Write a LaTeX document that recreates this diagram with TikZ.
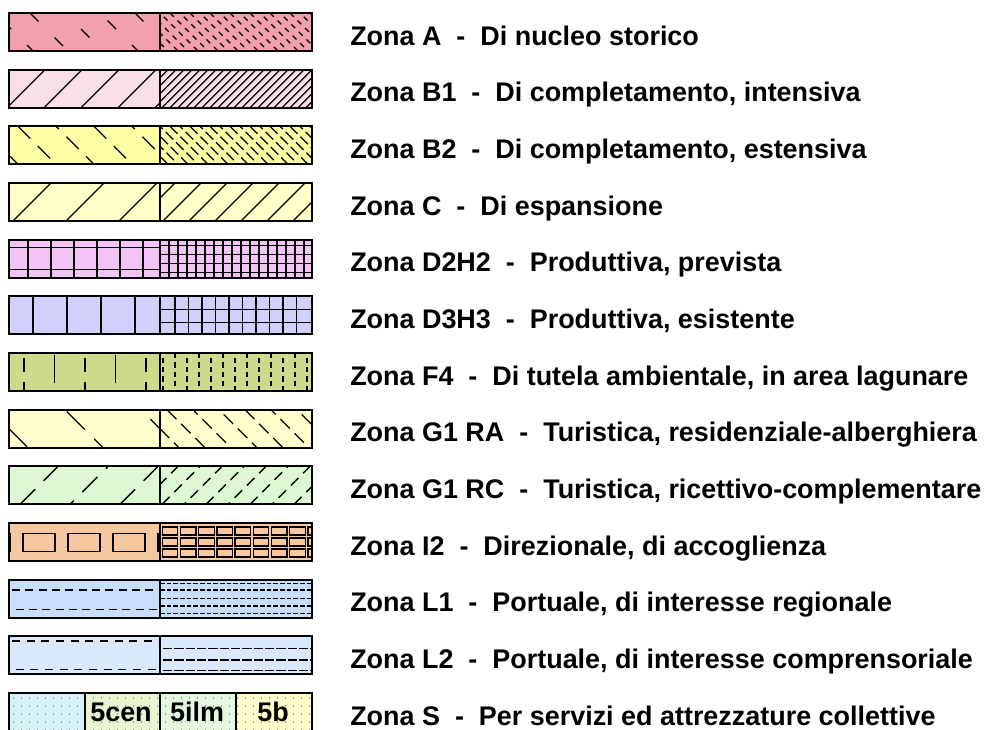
\documentclass[tikz,border=0pt]{standalone}
\usepackage{fontspec}
\setmainfont{Liberation Sans}
\usepackage{tikz}

\definecolor{fillA}{RGB}{242,160,172}
\definecolor{fillBa}{RGB}{250,222,232}
\definecolor{fillBb}{RGB}{255,255,165}
\definecolor{fillC}{RGB}{255,255,200}
\definecolor{fillDa}{RGB}{242,196,246}
\definecolor{fillDb}{RGB}{208,208,250}
\definecolor{fillF}{RGB}{204,218,140}
\definecolor{fillGa}{RGB}{255,255,205}
\definecolor{fillGb}{RGB}{222,248,212}
\definecolor{fillI}{RGB}{246,200,160}
\definecolor{fillLa}{RGB}{200,222,250}
\definecolor{fillLb}{RGB}{218,232,252}
\definecolor{fillSa}{RGB}{212,240,246}
\definecolor{fillSb}{RGB}{236,244,196}
\definecolor{fillSc}{RGB}{228,250,222}
\definecolor{fillSd}{RGB}{255,255,204}

\tikzset{
  swatch/.style={draw=black, line width=1.6pt},
  hatch/.style={black, line width=1pt},
  zlabel/.style={anchor=base west, inner sep=0pt, font=\bfseries\fontsize{20.2}{22}\selectfont},
  slabel/.style={anchor=base, inner sep=0pt, font=\bfseries\fontsize{20.2}{22}\selectfont},
}

\begin{document}
\begin{tikzpicture}[x=0.75pt,y=0.75pt,yscale=-1,xscale=1]
\useasboundingbox (0,0) rectangle (984,729);

%Shape: Swatch Zona A
\begin{scope}[shift={(0,13)}]
\fill[fillA] (9,0) rectangle (312,38);
\begin{scope}
\clip (9,0) rectangle (160,38);
\foreach \x [count=\i, evaluate=\i as \ph using {mod(\i,3)*9}] in {-40,-5,...,160}
  \draw[hatch, dash pattern=on 9pt off 17pt, dash phase=\ph pt] (\x,0) -- ++(38,38);
\end{scope}
\begin{scope}
\clip (160,0) rectangle (312,38);
\foreach \x [count=\i, evaluate=\i as \ph using {mod(\i,2)*4}] in {120,130,...,312}
  \draw[hatch, dash pattern=on 4pt off 4pt, dash phase=\ph pt] (\x,0) -- ++(38,38);
\end{scope}
\draw[swatch] (9,0) rectangle (312,38) (160,0) -- (160,38);
% Text Node
\node[zlabel] (zA) at (350,32) {Zona A\ \ -\ \ Di nucleo storico};
\end{scope}

%Shape: Swatch Zona B1
\begin{scope}[shift={(0,69.7)}]
\fill[fillBa] (9,0) rectangle (312,38);
\begin{scope}
\clip (9,0) rectangle (160,38);
\foreach \x in {-30,7,...,160}
  \draw[hatch] (\x,38) -- ++(38,-38);
\end{scope}
\begin{scope}
\clip (160,0) rectangle (312,38);
\foreach \x in {122,130,...,312}
  \draw[hatch] (\x,38) -- ++(38,-38);
\end{scope}
\draw[swatch] (9,0) rectangle (312,38) (160,0) -- (160,38);
% Text Node
\node[zlabel] (zB1) at (350,32) {Zona B1\ \ -\ \ Di completamento, intensiva};
\end{scope}

%Shape: Swatch Zona B2
\begin{scope}[shift={(0,126.3)}]
\fill[fillBb] (9,0) rectangle (312,38);
\begin{scope}
\clip (9,0) rectangle (160,38);
\foreach \x [count=\i, evaluate=\i as \ph using {mod(\i,2)*10}] in {-20,18,...,160}
  \draw[hatch, dash pattern=on 13pt off 8pt, dash phase=\ph pt] (\x,0) -- ++(38,38);
\end{scope}
\begin{scope}
\clip (160,0) rectangle (312,38);
\foreach \x [count=\i, evaluate=\i as \ph using {mod(\i,2)*5}] in {120,130,...,312}
  \draw[hatch, dash pattern=on 8pt off 3pt, dash phase=\ph pt] (\x,0) -- ++(38,38);
\end{scope}
\draw[swatch] (9,0) rectangle (312,38) (160,0) -- (160,38);
% Text Node
\node[zlabel] (zB2) at (350,32) {Zona B2\ \ -\ \ Di completamento, estensiva};
\end{scope}

%Shape: Swatch Zona C
\begin{scope}[shift={(0,183)}]
\fill[fillC] (9,0) rectangle (312,38);
\begin{scope}
\clip (9,0) rectangle (160,38);
\foreach \x in {-40,13,66,119}
  \draw[hatch] (\x,38) -- ++(38,-38);
\end{scope}
\begin{scope}
\clip (160,0) rectangle (312,38);
\foreach \x in {137,163,...,312}
  \draw[hatch] (\x,38) -- ++(38,-38);
\end{scope}
\draw[swatch] (9,0) rectangle (312,38) (160,0) -- (160,38);
% Text Node
\node[zlabel] (zC) at (350,32) {Zona C\ \ -\ \ Di espansione};
\end{scope}

%Shape: Swatch Zona D2H2
\begin{scope}[shift={(0,239.7)}]
\fill[fillDa] (9,0) rectangle (312,38);
\foreach \x in {28,51,74,97,120,143}
  \draw[hatch] (\x,0) -- (\x,38);
\draw[hatch] (9,8) -- (160,8) (9,30) -- (160,30);
\foreach \x in {169,178,...,306}
  \draw[hatch] (\x,0) -- (\x,38);
\foreach \y in {6,15,24,33}
  \draw[hatch] (160,\y) -- (312,\y);
\draw[swatch] (9,0) rectangle (312,38) (160,0) -- (160,38);
% Text Node
\node[zlabel] (zD2H2) at (350,32) {Zona D2H2\ \ -\ \ Produttiva, prevista};
\end{scope}

%Shape: Swatch Zona D3H3
\begin{scope}[shift={(0,296.3)}]
\fill[fillDb] (9,0) rectangle (312,38);
\foreach \x in {33,67,101,135}
  \draw[hatch] (\x,0) -- (\x,38);
\foreach \x in {175,188.5,...,300}
  \draw[hatch] (\x,0) -- (\x,38);
\draw[hatch] (160,13) -- (312,13) (160,26) -- (312,26);
\draw[swatch] (9,0) rectangle (312,38) (160,0) -- (160,38);
% Text Node
\node[zlabel] (zD3H3) at (350,32) {Zona D3H3\ \ -\ \ Produttiva, esistente};
\end{scope}

%Shape: Swatch Zona F4
\begin{scope}[shift={(0,353)}]
\fill[fillF] (9,0) rectangle (312,38);
\foreach \x in {24,85,146}
  \draw[hatch] (\x,5) -- (\x,19) (\x,29) -- (\x,38);
\foreach \x in {54.5,115.5}
  \draw[hatch] (\x,2) -- (\x,30);
\foreach \x [count=\i, evaluate=\i as \ph using {mod(\i,2)*3.5}] in {163,175,...,308}
  \draw[hatch, dash pattern=on 4pt off 3pt, dash phase=\ph pt] (\x,0) -- (\x,38);
\draw[swatch] (9,0) rectangle (312,38) (160,0) -- (160,38);
% Text Node
\node[zlabel] (zF4) at (350,32) {Zona F4\ \ -\ \ Di tutela ambientale, in area lagunare};
\end{scope}

%Shape: Swatch Zona G1 RA
\begin{scope}[shift={(0,409.7)}]
\fill[fillGa] (9,0) rectangle (312,38);
\begin{scope}
\clip (9,0) rectangle (160,38);
\draw[hatch, dash pattern=on 19pt off 10pt, dash phase=9pt] (-10,0) -- ++(38,38);
\draw[hatch, dash pattern=on 19pt off 10pt, dash phase=27pt] (65,0) -- ++(38,38);
\draw[hatch, dash pattern=on 19pt off 10pt, dash phase=19pt] (141,0) -- ++(38,38);
\end{scope}
\begin{scope}
\clip (160,0) rectangle (312,38);
\foreach \x [count=\i, evaluate=\i as \ph using {mod(\i,3)*5}] in {115,141,...,312}
  \draw[hatch, dash pattern=on 10pt off 5pt, dash phase=\ph pt] (\x,0) -- ++(38,38);
\end{scope}
\draw[swatch] (9,0) rectangle (312,38) (160,0) -- (160,38);
% Text Node
\node[zlabel] (zG1RA) at (350,32) {Zona G1 RA\ \ -\ \ Turistica, residenziale-alberghiera};
\end{scope}

%Shape: Swatch Zona G1 RC
\begin{scope}[shift={(0,466.3)}]
\fill[fillGb] (9,0) rectangle (312,38);
\begin{scope}
\clip (9,0) rectangle (160,38);
\foreach \x [count=\i, evaluate=\i as \ph using {mod(\i,2)*12}] in {-30,20,...,160}
  \draw[hatch, dash pattern=on 16pt off 9pt, dash phase=\ph pt] (\x,38) -- ++(38,-38);
\end{scope}
\begin{scope}
\clip (160,0) rectangle (312,38);
\foreach \x [count=\i, evaluate=\i as \ph using {mod(\i,2)*6}] in {140,162,...,312}
  \draw[hatch, dash pattern=on 8pt off 5pt, dash phase=\ph pt] (\x,38) -- ++(38,-38);
\end{scope}
\draw[swatch] (9,0) rectangle (312,38) (160,0) -- (160,38);
% Text Node
\node[zlabel] (zG1RC) at (350,32) {Zona G1 RC\ \ -\ \ Turistica, ricettivo-complementare};
\end{scope}

%Shape: Swatch Zona I2
\begin{scope}[shift={(0,523)}]
\fill[fillI] (9,0) rectangle (312,38);
\begin{scope}
\clip (9,0) rectangle (160,38);
\foreach \x in {-22,23,68,113,158}
  \draw[hatch] (\x,10.7) rectangle ++(32,18);
\end{scope}
\begin{scope}
\clip (160,0) rectangle (312,38);
\foreach \x in {162.3,180.5,...,312}
  \foreach \y in {4,15,26}
    \draw[hatch] (\x,\y) rectangle ++(15.5,8);
\end{scope}
\draw[swatch] (9,0) rectangle (312,38) (160,0) -- (160,38);
% Text Node
\node[zlabel] (zI2) at (350,32) {Zona I2\ \ -\ \ Direzionale, di accoglienza};
\end{scope}

%Shape: Swatch Zona L1
\begin{scope}[shift={(0,579.7)}]
\fill[fillLa] (9,0) rectangle (312,38);
\draw[hatch, dash pattern=on 6pt off 4pt] (12,10.3) -- (160,10.3);
\draw[hatch, dash pattern=on 6pt off 4pt, dash phase=5pt] (9,29.7) -- (160,29.7);
\foreach \y in {3.7,10.3,18.7,26.3,33.7}
  \draw[hatch, dash pattern=on 3.5pt off 1.5pt] (160,\y) -- (312,\y);
\draw[swatch] (9,0) rectangle (312,38) (160,0) -- (160,38);
% Text Node
\node[zlabel] (zL1) at (350,32) {Zona L1\ \ -\ \ Portuale, di interesse regionale};
\end{scope}

%Shape: Swatch Zona L2
\begin{scope}[shift={(0,636.3)}]
\fill[fillLb] (9,0) rectangle (312,38);
\draw[hatch, dash pattern=on 6pt off 5pt] (12,4.7) -- (160,4.7);
\draw[hatch, dash pattern=on 6pt off 5pt, dash phase=6pt] (9,33) -- (160,33);
\foreach \y in {12,23.7,34.3}
  \draw[hatch, dash pattern=on 7pt off 1.5pt] (163,\y) -- (312,\y);
\draw[swatch] (9,0) rectangle (312,38) (160,0) -- (160,38);
% Text Node
\node[zlabel] (zL2) at (350,32) {Zona L2\ \ -\ \ Portuale, di interesse comprensoriale};
\end{scope}

%Shape: Swatch Zona S
\begin{scope}[shift={(0,693)}]
\fill[fillSa] (9,0) rectangle (85,42);
\fill[fillSb] (85,0) rectangle (160,42);
\fill[fillSc] (160,0) rectangle (236,42);
\fill[fillSd] (236,0) rectangle (312,42);
\begin{scope}
\clip (9,0) rectangle (160,42);
\foreach \x in {-40,-35,...,160}
  \draw[white!60!cyan!35, line width=0.5pt] (\x,42) -- ++(42,-42);
\end{scope}
\foreach \x in {13,21,...,310}
  \foreach \y in {4,12,...,36}
    \fill[black!40] (\x,\y) rectangle ++(1,1.6);
\draw[swatch] (9,0) rectangle (312,42) (85,0) -- (85,42) (160,0) -- (160,42) (236,0) -- (236,42);
% Text Node
\node[slabel] (s5cen) at (121,28) {5cen};
% Text Node
\node[slabel] (s5ilm) at (197,28) {5ilm};
% Text Node
\node[slabel] (s5b) at (273,28) {5b};
% Text Node
\node[zlabel] (zS) at (350,32) {Zona S\ \ -\ \ Per servizi ed attrezzature collettive};
\end{scope}

\end{tikzpicture}
\end{document}
